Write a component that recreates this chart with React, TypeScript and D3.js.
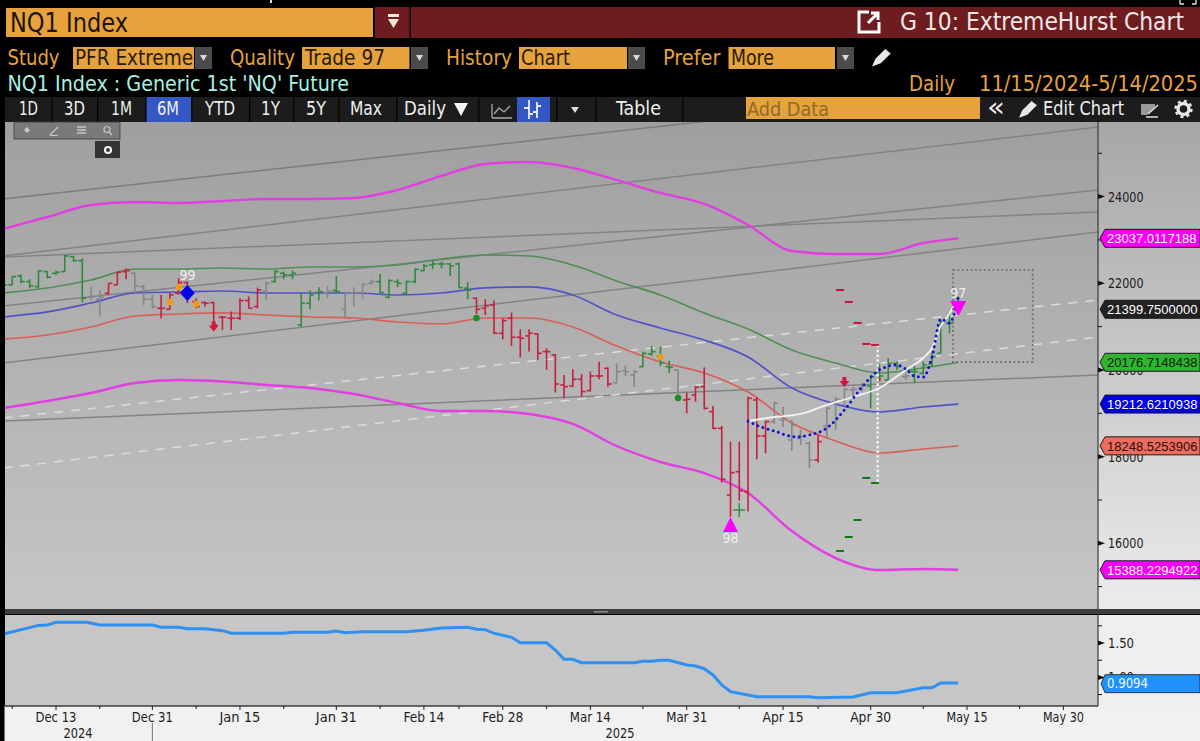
import React from 'react';
import * as d3 from 'd3';

// daily bars, first bar sits six sessions before Dec 13 (index 0)
const firstBar = -6;
const opens = [
  21962,21962,22169,22039,21923,22269,22231,22269,22615,22523,
  21677,21631,21770,21962,22269,22231,21923,21631,21423,21400,
  21770,22016,21577,21554,21554,21216,21193,21193,21600,21462,
  21808,22039,22231,22193,21039,21539,21785,21769,21831,21400,
  21769,21785,22000,22038,21677,22038,21769,22038,22292,22423,
  22446,22446,22446,21885,21654,21423,21500,20846,21192,20754,
  20785,20831,20423,20346,19654,19631,19785,19523,19862,20037,
  19707,19984,19884,20076,20368,20322,20076,19999,19307,19422,
  19614,19038,18653,17115,17653,17192,19307,18476,18807,18845,
  18384,18422,18307,17923,18707,19268,19307,19538,19577,19631,
  19785,19770,20154,19846,19962,19923,20139,20385,21077,21385,
];
const highs = [
  22016,22154,22208,22093,22308,22285,22293,22654,22631,22577,
  21923,21847,22000,22269,22346,22246,21962,21731,21731,21770,
  22116,22039,21654,21577,21577,21247,21347,21654,21693,21900,
  22039,22308,22269,22293,21769,21831,21908,21938,22169,21808,
  21908,22000,22092,22215,22092,22092,22062,22346,22446,22523,
  22500,22462,22477,22031,21677,21631,21600,21192,21323,20939,
  20939,20846,20500,20369,19885,20016,19908,19962,20192,20060,
  20153,20091,20000,20422,20553,20537,20214,20014,19476,19630,
  20060,19168,18707,18346,18346,19384,19368,18830,19268,19153,
  18845,18630,18346,18522,19138,19384,19576,19614,19693,19885,
  20139,20269,20193,19923,20116,20193,20385,21154,21308,21692,
];
const lows = [
  21923,21962,22000,21885,21885,22116,22193,22269,22500,21554,
  21616,21231,21731,21962,22093,21770,21500,21423,21193,21385,
  21731,21539,21423,21462,20923,20923,20923,21154,21423,21423,
  21616,22016,22093,22093,20998,21400,21600,21654,21769,21192,
  21477,21631,21962,21769,21654,21908,21731,22000,22269,22323,
  22346,22169,21885,21631,21292,21269,20831,20708,20554,20292,
  20423,20231,20000,19477,19346,19600,19385,19500,19785,19614,
  19691,19860,19614,20060,20322,20091,19937,19368,19000,19268,
  19091,18630,17400,16615,16984,16731,17938,18076,18753,18676,
  18138,18268,17730,17861,18422,18615,19192,19384,19500,19116,
  19731,19770,20000,19770,19693,19885,20077,20385,20846,21269,
];
const closes = [
  21962,22154,22039,21939,22285,22139,22254,22631,22523,21654,
  21693,21677,22000,22254,22293,21939,21631,21462,21423,21731,
  22016,21770,21462,21539,21039,21216,21193,21600,21423,21847,
  22000,22269,22193,22231,21539,21731,21808,21808,21808,21769,
  21785,21977,22038,21785,22062,22000,22038,22323,22400,22446,
  22446,22400,21900,21846,21400,21477,20846,21138,20754,20731,
  20846,20385,20423,19677,19616,19785,19500,19862,19862,19676,
  19960,19960,19960,20383,20422,20168,20060,19368,19322,19599,
  19114,18653,17477,17630,17215,19345,18476,18807,19230,18861,
  18730,18461,17923,18346,19115,19322,19553,19553,19631,19846,
  19862,20154,20077,19862,19962,20116,20308,21115,21077,21400,
];
// G green, R red, N neutral; one run per stretch of bars
const barStates = ('G'.repeat(10) + 'NN' + 'RRR' + 'NNN' + 'R'.repeat(12) + 'N' + 'G'.repeat(6) + 'N' + 'G' + 'NNNN'
  + 'G'.repeat(11) + 'R'.repeat(16) + 'NNN' + 'GGGG' + 'N' + 'R'.repeat(10) + 'N'.repeat(5) + 'R' + 'N'.repeat(5)
  + 'GGGG' + 'N' + 'G'.repeat(6)).split('');

// the study bands are read every five sessions
const bandIdx = [-6,-1,4,9,14,19,24,29,34,39,44,49,54,59,64,69,74,79,84,89,94,99,103];
const upperOuter = [23253,23530,23807,23876,23853,23899,23946,23946,23969,24153,24476,24753,24800,24661,24384,24084,23830,23346,22745,22676,22676,22930,23037];
const upperBand = [21776,21892,22076,22330,22330,22353,22330,22376,22376,22422,22561,22653,22630,22422,22053,21730,21315,20945,20461,20161,19930,20045,20177];
const midBand = [21222,21338,21545,21776,21799,21822,21776,21776,21776,21730,21776,21892,21915,21730,21268,20968,20691,20299,19583,19214,19030,19145,19213];
const lowerBand = [20714,20807,20991,21245,21291,21315,21268,21222,21199,21107,21061,21199,21199,20991,20553,20184,19930,19491,18776,18361,18084,18176,18248];
const lowerOuter = [19122,19284,19468,19699,19768,19733,19653,19584,19445,19237,19053,19053,18984,18753,18245,17876,17622,17160,16283,15660,15383,15406,15388];

const whiteIdx = [79,82,85,88,91,94,97,99,100,101,102,102.5];
const whiteCurve = [18822,18914,18984,19192,19376,19584,20001,20276,20507,21015,21300,21499];
const dottedIdx = [79,80.5,82,84.5,86,88,90,92,94,96,97,98,99,100,101,102,103];
const dottedCurve = [18822,18684,18592,18453,18499,18661,19076,19607,20001,20115,20023,19861,19838,20299,21176,21084,21684];

// trend lines as [index, price] pairs
const trendFrom = -6;
const trendTo = 119;
const trendStart = [23945,22630,21476,22607,20161,18822];
const trendEnd = [26738,25607,24153,23646,23184,19884];
const dashStart = [18891,17737];
const dashEnd = [21615,20761];

const redDashIdx = [89,90,91,92,93];
const redDashes = [21845,21569,21085,20600,20577];
const greenDashes = [15823,16146,16538,17508,17392];

const orangeDots = [[14,21915],[13,21568],[16,21522],[69,20299]];
const greenDots = [[48,21199],[71,19353]];
const downArrows = [[18,21000],[90,19720]];

const priceTicks = [16000,18000,20000,22000,24000];
const priceMinor = [15000,17000,19000,21000,23000,25000];
const tags = [
  { value: 23037.0117188, bg: '#f800f8', fg: '#fff', label: '23037.0117188' },
  { value: 21399.75, bg: '#222222', fg: '#fff', label: '21399.7500000' },
  { value: 20176.7148438, bg: '#2fb52f', fg: '#0a200a', label: '20176.7148438' },
  { value: 19212.6210938, bg: '#0000e8', fg: '#fff', label: '19212.6210938' },
  { value: 18248.5253906, bg: '#ec6d60', fg: '#2a0c08', label: '18248.5253906' },
  { value: 15388.2294922, bg: '#f800f8', fg: '#fff', label: '15388.2294922' },
];

const hurstIdx = [-6,-2,-1,0,3.5,5,11,12,14,15,17,19,20,26,27,31,32,33,35,40,42,44,47,48,49,50,52,53,56,57,58,59,60,66,67,68,69,70,72,73,74,75,76,77,80,86,87,91,93,96,99,100,101,103];
const hurstVals = [1.631,1.756,1.762,1.801,1.801,1.762,1.762,1.728,1.728,1.708,1.708,1.679,1.641,1.641,1.656,1.656,1.674,1.65,1.664,1.664,1.685,1.718,1.728,1.699,1.693,1.641,1.583,1.504,1.504,1.398,1.263,1.263,1.214,1.214,1.234,1.234,1.249,1.249,1.18,1.166,1.126,1.035,0.89,0.792,0.719,0.719,0.705,0.715,0.778,0.778,0.85,0.85,0.92,0.92];
const hurstTicks = [1.75,1.5,1.25,1.0,0.75];

const dateLabels = ['Dec 13','Dec 31','Jan 15','Jan 31','Feb 14','Feb 28','Mar 14','Mar 31','Apr 15','Apr 30','May 15','May 30'];
const dateIdx = [0,11,21,32,42,51,61,72,83,93,104,115];
const dateMinor = [-5,5,16,26,37,46,56,67,78,87,99,110];

const x = d3.scaleLinear().domain([0, 115]).range([56, 56 + 115 * 8.76]);
const y = d3.scaleLinear().domain([16000, 24000]).range([543.3, 196.6]);
const yLow = d3.scaleLinear().domain([0.75, 1.5]).range([694.6, 643]);

const bandLine = (vals: number[], idx: number[] = bandIdx) =>
  d3.line<number>().x((_, k) => x(idx[k])).y((d) => y(d)).curve(d3.curveMonotoneX)(vals) as string;

const FONT = '"DejaVu Sans Condensed", "DejaVu Sans", sans-serif';
const TAG_FONT = '"Liberation Sans", sans-serif';
const ORANGE = '#e6a23c';
const stateColor: Record<string, string> = { G: '#2f8a3f', R: '#c6203c', N: '#868686' };

// text with a fixed width, the terminal font is narrower than anything installed
const T = ({ x: tx, y: ty, w, size, fill, children, anchor }: any) => (
  <text x={tx} y={ty} fontSize={size} fill={fill} fontFamily={FONT} textAnchor={anchor}
    textLength={w} lengthAdjust={w ? 'spacingAndGlyphs' : undefined}>{children}</text>
);

const Dropdown = ({ x: dx }: { x: number }) => (
  <g>
    <rect x={dx} y={47} width={17} height={22} fill="#4a4a4a" />
    <path d={`M${dx + 5},55 h7 l-3.5,6 z`} fill="#d8d8d8" />
  </g>
);

const Pen = ({ x: px, y: py, s = 1, fill = '#e8e8e8' }: any) => (
  <path transform={`translate(${px},${py}) scale(${s})`} d="M0,16 L3,9 L12,0 L17,4 L8,13 Z" fill={fill} />
);

const toolbarButtons = [
  ['1D', 19, 19], ['3D', 64, 21], ['1M', 111, 21], ['6M', 157, 22], ['YTD', 205, 30],
  ['1Y', 261, 19], ['5Y', 306, 20], ['Max', 350, 32],
];
const toolbarSeps = [51, 97, 145, 191, 249, 293, 338, 396, 478, 556, 595, 682];

const Chrome = () => (
  <g>
    <rect x={0} y={0} width={1200} height={122} fill="#000" />
    <rect x={270} y={0} width={2} height={3} fill="#ddd" />
    <path d="M1180,4 h4 M1192,4 h4 M1180,0 v4 M1196,0 v4" stroke="#ddd" strokeWidth={1.4} fill="none" />
    <rect x={6} y={8} width={367} height={29} fill={ORANGE} />
    <T x={10} y={31.5} w={118} size={26} fill="#1c1408">NQ1 Index</T>
    <rect x={375} y={7} width={34.5} height={31} fill="#6e1c20" />
    <rect x={411} y={7} width={789} height={31} fill="#6e1c20" />
    <rect x={388} y={14} width={11} height={3} fill="#f0e8d8" />
    <path d="M388,19 h11 l-5.5,9 z" fill="#f0e8d8" />
    <path d="M869,12 h-10 v20 h20 v-10" fill="none" stroke="#fff" strokeWidth={3} />
    <path d="M868,23 l9,-9 M871,13 h7 v7" fill="none" stroke="#fff" strokeWidth={3} />
    <T x={900} y={29.5} w={284} size={25} fill="#f0e6e6">G 10: ExtremeHurst Chart</T>

    <T x={7.5} y={65} w={52} size={21} fill={ORANGE}>Study</T>
    <rect x={73} y={47} width={121} height={22} fill={ORANGE} />
    <T x={75} y={65} w={118} size={21} fill="#2a1c08">PFR Extreme</T>
    <Dropdown x={195} />
    <T x={230} y={65} w={65} size={21} fill={ORANGE}>Quality</T>
    <rect x={302} y={47} width={107.5} height={22} fill={ORANGE} />
    <T x={305} y={65} w={80} size={21} fill="#2a1c08">Trade 97</T>
    <Dropdown x={411} />
    <T x={446} y={65} w={66} size={21} fill={ORANGE}>History</T>
    <rect x={519} y={47} width={108} height={22} fill={ORANGE} />
    <T x={521} y={65} w={49} size={21} fill="#2a1c08">Chart</T>
    <Dropdown x={628} />
    <T x={663} y={65} w={57.5} size={21} fill={ORANGE}>Prefer</T>
    <rect x={728.5} y={47} width={106.5} height={22} fill={ORANGE} />
    <T x={731} y={65} w={43} size={21} fill="#2a1c08">More</T>
    <Dropdown x={837} />
    <Pen x={872} y={49} s={1.1} />

    <T x={7.5} y={90.5} w={341.5} size={21} fill="#a8f0e4">NQ1 Index : Generic 1st 'NQ' Future</T>
    <T x={909} y={90.5} w={46} size={21} fill={ORANGE}>Daily</T>
    <T x={979} y={90.5} w={219} size={21} fill={ORANGE}>11/15/2024-5/14/2025</T>

    <rect x={5} y={97} width={1195} height={25} fill="#1c1c1c" />
    <rect x={145} y={97} width={46} height={25} fill="#3358c4" />
    <rect x={517} y={97} width={33} height={25} fill="#3358c4" />
    {toolbarSeps.map((s) => <rect key={s} x={s} y={97} width={1.5} height={25} fill="#050505" />)}
    {toolbarButtons.map(([label, bx, bw]) => (
      <T key={label as string} x={bx} y={115} w={bw} size={19} fill="#eeeeee">{label}</T>
    ))}
    <T x={404} y={115} w={42} size={19} fill="#eeeeee">Daily</T>
    <path d="M454,103 h14 l-7,13 z" fill="#f4f4f4" />
    <path d="M492,118 V104 M492,118 H512 M494,114 l5,-6 l5,4 l6,-6" fill="none" stroke="#aaaaaa" strokeWidth={1.3} />
    <path d="M529,100 V119 M537,102 V118 M524,108 h5 M529,114 h4 M537,106 h4 M533,112 h4" fill="none" stroke="#e8eef8" strokeWidth={1.8} />
    <path d="M571,107 h8 l-4,6 z" fill="#dddddd" />
    <T x={616} y={115} w={45} size={19} fill="#eeeeee">Table</T>
    <rect x={746} y={97} width={234} height={22} fill={ORANGE} />
    <T x={747} y={115.5} w={82} size={19} fill="#8f6a26">Add Data</T>
    <T x={987} y={116} w={18} size={27} fill="#eeeeee">«</T>
    <Pen x={1019} y={101} s={1.05} />
    <T x={1043} y={115} w={81} size={19} fill="#eeeeee">Edit Chart</T>
    <path d="M1141,104 h14 v3 l-8,8 h-6 z" fill="#9a9a9a" />
    <path d="M1148,114 l10,-9 M1146,117 h12" stroke="#e0e0e0" strokeWidth={1.6} />
    <circle cx={1183.5} cy={109} r={5.5} fill="none" stroke="#e8e8e8" strokeWidth={3.4} />
    <circle cx={1183.5} cy={109} r={8} fill="none" stroke="#e8e8e8" strokeWidth={2.4} strokeDasharray="3 3.3" />
  </g>
);

const PriceChart = () => (
  <g>
    <g clipPath="url(#plot)">
      {trendStart.map((v, k) => (
        <line key={k} x1={x(trendFrom)} y1={y(v)} x2={x(trendTo)} y2={y(trendEnd[k])}
          stroke={k === 0 ? '#7c7c7c' : '#838383'} strokeWidth={1.5} />
      ))}
      {dashStart.map((v, k) => (
        <line key={k} x1={x(trendFrom)} y1={y(v)} x2={x(trendTo)} y2={y(dashEnd[k])}
          stroke="#dcdcdc" strokeWidth={1.5} strokeDasharray="9 8" />
      ))}
      <path d={bandLine(upperOuter)} fill="none" stroke="#e23ee2" strokeWidth={2.4} />
      <path d={bandLine(lowerOuter)} fill="none" stroke="#e23ee2" strokeWidth={2.4} />
      <path d={bandLine(upperBand)} fill="none" stroke="#4f8f55" strokeWidth={1.6} />
      <path d={bandLine(midBand)} fill="none" stroke="#5252c8" strokeWidth={1.7} />
      <path d={bandLine(lowerBand)} fill="none" stroke="#d95f5a" strokeWidth={1.7} />

      {opens.map((o, k) => {
        const cx = x(firstBar + k);
        const col = stateColor[barStates[k]];
        return (
          <g key={k} stroke={col} strokeWidth={1.6}>
            <line x1={cx} x2={cx} y1={y(highs[k])} y2={y(lows[k])} />
            <line x1={cx - 3.8} x2={cx} y1={y(o)} y2={y(o)} />
            <line x1={cx} x2={cx + 3.8} y1={y(closes[k])} y2={y(closes[k])} />
          </g>
        );
      })}

      {/* green cross next to the April low, small tick on the Apr 30 line */}
      <path transform={`translate(${x(78)},${y(16770)})`} d="M-6,0 H6 M0,-7 V7" stroke="#3f8f4c" strokeWidth={1.6} />
      <circle cx={x(94)} cy={y(19790)} r={1.6} fill="#c83010" />

      <line x1={x(93.8)} x2={x(93.8)} y1={y(20577)} y2={y(17392)} stroke="#f4f4f4" strokeWidth={2.4} strokeDasharray="2.4 2.4" />
      {redDashIdx.map((d, k) => (
        <line key={d} x1={x(d) + 0.4} x2={x(d + 1) - 0.4} y1={y(redDashes[k])} y2={y(redDashes[k])} stroke="#c8143c" strokeWidth={2} />
      ))}
      {redDashIdx.map((d, k) => (
        <line key={d} x1={x(d) + 0.4} x2={x(d + 1) - 0.4} y1={y(greenDashes[k])} y2={y(greenDashes[k])} stroke="#0c7a14" strokeWidth={2} />
      ))}

      <path d={bandLine(whiteCurve, whiteIdx)} fill="none" stroke="#f2f2f2" strokeWidth={1.8} />
      <path d={bandLine(dottedCurve, dottedIdx)} fill="none" stroke="#1414cc" strokeWidth={3} strokeLinecap="round" strokeDasharray="0 5.4" />

      <rect x={x(102.4)} y={y(22307)} width={x(111.5) - x(102.4)} height={y(20183) - y(22307)}
        fill="none" stroke="#707070" strokeWidth={1.8} strokeDasharray="1.8 2.6" />

      {orangeDots.map(([d, v]) => <circle key={d} cx={x(d)} cy={y(v)} r={3.2} fill="#f59a16" />)}
      {greenDots.map(([d, v]) => <circle key={d} cx={x(d)} cy={y(v)} r={3.2} fill="#1f8a26" />)}
      {downArrows.map(([d, v]) => (
        <path key={d} transform={`translate(${x(d)},${y(v)})`} d="M-2,-5 h4 v4 h3 l-5,6 l-5,-6 h3 z" fill="#d6143c" />
      ))}
      <path transform={`translate(${x(15)},${y(21776)})`} d="M0,-8 L7.5,0 L0,8 L-7.5,0 Z" fill="#0000f0" />
      <text x={x(15)} y={y(21776) - 13} fontSize={14} fill="#f0f0f0" textAnchor="middle" fontFamily={FONT}>99</text>
      <path transform={`translate(${x(77)},${y(16607)})`} d="M0,0 L7.5,15 L-7.5,15 Z" fill="#fb00fb" />
      <text x={x(77)} y={y(16607) + 26} fontSize={14} fill="#f0f0f0" textAnchor="middle" fontFamily={FONT}>98</text>
      <path transform={`translate(${x(103)},${y(21246)})`} d="M0,0 L8,-15 L-8,-15 Z" fill="#fb00fb" />
      <text x={x(103)} y={y(21246) - 18} fontSize={14} fill="#f0f0f0" textAnchor="middle" fontFamily={FONT}>97</text>
    </g>

    {/* little chart tools overlay */}
    <rect x={14} y={122} width={106} height={17} fill="#7a7a7a" stroke="#3a3a3a" strokeWidth={0.8} />
    <path d="M27,127 l3,3 l-3,3 l-3,-3 z" fill="#c8c8c8" />
    <path d="M50,135 l8,-8 M50,135.5 h8" stroke="#c8c8c8" strokeWidth={1.2} />
    <path d="M77,127 h9 M77,130 h9 M77,133 h9" stroke="#c8c8c8" strokeWidth={1.3} />
    <circle cx={107} cy={129.5} r={3} fill="none" stroke="#c8c8c8" strokeWidth={1.2} />
    <path d="M109,132 l3,3" stroke="#c8c8c8" strokeWidth={1.4} />
    <rect x={95} y={141} width={25} height={17} fill="#333333" />
    <circle cx={108} cy={150} r={3} fill="none" stroke="#f0f0f0" strokeWidth={2.2} />

    <line x1={1098} x2={1098} y1={122} y2={609} stroke="#3c3c3c" strokeWidth={1.2} />
    {priceMinor.map((t) => <line key={t} x1={1098} x2={1102} y1={y(t)} y2={y(t)} stroke="#111" strokeWidth={1} />)}
    {priceTicks.map((t) => (
      <g key={t}>
        <path d={`M1098,${y(t) - 2.5} L1105,${y(t)} L1098,${y(t) + 2.5} Z`} fill="#111" />
        <T x={1108} y={y(t) + 5} w={35.5} size={14} fill="#1c1c1c">{t}</T>
      </g>
    ))}
    {tags.map((t) => {
      const c = y(t.value);
      return (
        <g key={t.label}>
          <path d={`M1100,${c} L1105,${c - 9} H1200 V${c + 9} H1105 Z`} fill={t.bg} stroke="#1a1a1a" strokeWidth={1} />
          <text x={1107} y={c + 4.8} fontSize={13} fill={t.fg} fontFamily={TAG_FONT}>{t.label}</text>
        </g>
      );
    })}
  </g>
);

const hurstLine = d3.line<number>().x((_, k) => x(hurstIdx[k])).y((d) => yLow(d))(hurstVals) as string;

const LowerPanel = () => (
  <g>
    <rect x={5} y={615} width={1093} height={91} fill="#c6c6c6" />
    <rect x={1098} y={615} width={102} height={91} fill="#efefef" />
    <rect x={0} y={706} width={1200} height={35} fill="#f1f1f1" />
    <rect x={0} y={0} width={4.5} height={741} fill="#000" />
    <rect x={5} y={609} width={1195} height={5} fill="#3e3e3e" />
    <rect x={594} y={611} width={14} height={1.5} fill="#8a8a8a" />
    <line x1={5} x2={1098} y1={706} y2={706} stroke="#3c3c3c" strokeWidth={1.3} />
    <line x1={1098} x2={1098} y1={614} y2={706} stroke="#3c3c3c" strokeWidth={1.2} />

    <path d={hurstLine} fill="none" stroke="#2f90f2" strokeWidth={3} clipPath="url(#lowPlot)" />

    {hurstTicks.map((t) => <line key={t} x1={1098} x2={1102} y1={yLow(t)} y2={yLow(t)} stroke="#111" />)}
    {[1.5, 1.0].map((t) => (
      <g key={t}>
        <path d={`M1098,${yLow(t) - 2.5} L1105,${yLow(t)} L1098,${yLow(t) + 2.5} Z`} fill="#111" />
        <T x={1108} y={yLow(t) + 5} w={26} size={14} fill="#1c1c1c">{t.toFixed(2)}</T>
      </g>
    ))}
    <path d={`M1101,${yLow(0.9094)} L1105,${yLow(0.9094) - 9} H1200 V${yLow(0.9094) + 9} H1105 Z`} fill="#2191fb" stroke="#1a1a1a" strokeWidth={0.8} />
    <T x={1107} y={yLow(0.9094) + 4.8} w={41} size={14} fill="#f4f8ff">0.9094</T>

    {dateIdx.map((d, k) => (
      <g key={d}>
        <line x1={x(d)} x2={x(d)} y1={706} y2={710} stroke="#222" />
        <T x={x(d)} y={721.5} w={41} size={14} fill="#222" anchor="middle">{dateLabels[k]}</T>
      </g>
    ))}
    {dateMinor.map((d) => <line key={d} x1={x(d)} x2={x(d)} y1={706} y2={709} stroke="#222" />)}
    <T x={78} y={738} w={29} size={14} fill="#222" anchor="middle">2024</T>
    <line x1={x(11)} x2={x(11)} y1={723} y2={741} stroke="#777" />
    <T x={620} y={738} w={29} size={14} fill="#222" anchor="middle">2025</T>
  </g>
);

export default function App() {
  return (
    <svg width={1200} height={741} viewBox="0 0 1200 741" style={{ position: 'absolute', left: 0, top: 0, display: 'block' }}>
      <defs>
        <linearGradient id="plotBg" x1="0" y1="0" x2="0" y2="1">
          <stop offset="0" stopColor="#9f9f9f" />
          <stop offset="1" stopColor="#c6c6c6" />
        </linearGradient>
        <linearGradient id="axisBg" x1="0" y1="0" x2="0" y2="1">
          <stop offset="0" stopColor="#a6a6a6" />
          <stop offset="1" stopColor="#ececec" />
        </linearGradient>
        <clipPath id="plot"><rect x={5} y={122} width={1093} height={487} /></clipPath>
        <clipPath id="lowPlot"><rect x={5} y={615} width={1093} height={91} /></clipPath>
      </defs>
      <rect width={1200} height={741} fill="#000" />
      <rect x={5} y={122} width={1093} height={487} fill="url(#plotBg)" />
      <rect x={1098} y={122} width={102} height={487} fill="url(#axisBg)" />
      <Chrome />
      <PriceChart />
      <LowerPanel />
    </svg>
  );
}
